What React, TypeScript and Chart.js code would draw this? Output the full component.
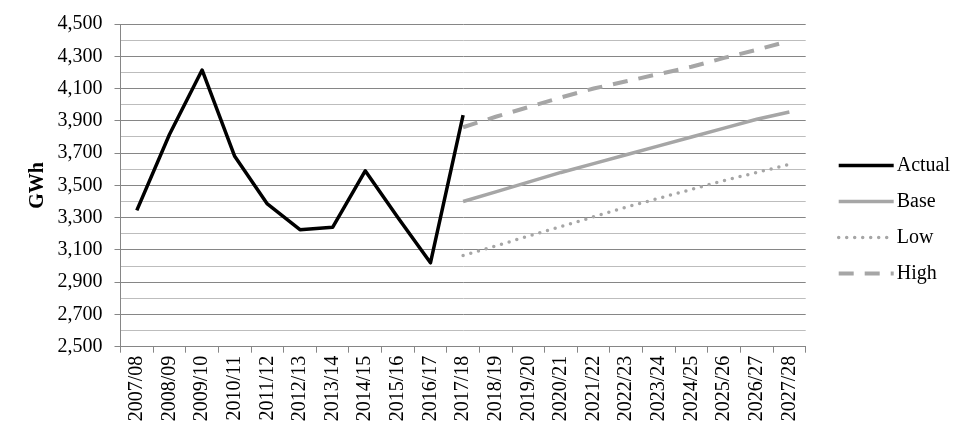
import { useEffect, useRef } from 'react';
import { Chart, registerables } from 'chart.js';

Chart.register(...registerables);

const categories = [
  '2007/08', '2008/09', '2009/10', '2010/11', '2011/12', '2012/13', '2013/14',
  '2014/15', '2015/16', '2016/17', '2017/18', '2018/19', '2019/20', '2020/21',
  '2021/22', '2022/23', '2023/24', '2024/25', '2025/26', '2026/27', '2027/28',
];

const actual = [3345, 3815, 4215, 3680, 3385, 3225, 3240, 3590, 3300, 3020, 3935,
  null, null, null, null, null, null, null, null, null, null];
const base = [null, null, null, null, null, null, null, null, null, null,
  3400, 3460, 3520, 3580, 3635, 3690, 3745, 3800, 3855, 3910, 3955];
const low = [null, null, null, null, null, null, null, null, null, null,
  3065, 3125, 3185, 3245, 3305, 3365, 3420, 3475, 3530, 3580, 3630];
const high = [null, null, null, null, null, null, null, null, null, null,
  3860, 3925, 3985, 4045, 4100, 4145, 4190, 4235, 4290, 4340, 4395];

const yMin = 2500;
const yMax = 4500;
const yStep = 100;
const yLabelStep = 200;
const yTitle = 'GWh';

const FONT = '"Liberation Serif", "Times New Roman", serif';
const MAJOR = '#868686';
const MINOR = '#bdbdbd';
const GRAY = '#a6a6a6';

const isMajor = (v: number) => Math.abs(((v - yMin) % yLabelStep)) < 1e-6;

const sideLegend = {
  id: 'sideLegend',
  afterDraw(chart: any) {
    const ctx = chart.ctx;
    const x0 = chart.chartArea.right + 33;
    const top = 165.5;
    const gap = 36;
    chart.data.datasets.forEach((ds: any, i: number) => {
      const y = top + i * gap;
      ctx.save();
      ctx.strokeStyle = ds.borderColor;
      ctx.lineWidth = ds.borderWidth;
      ctx.setLineDash(ds.borderDash || []);
      ctx.lineCap = ds.borderCapStyle || 'butt';
      ctx.beginPath();
      ctx.moveTo(x0, y);
      ctx.lineTo(x0 + 55, y);
      ctx.stroke();
      ctx.setLineDash([]);
      ctx.fillStyle = '#000';
      ctx.font = `20px ${FONT}`;
      ctx.textBaseline = 'middle';
      ctx.textAlign = 'left';
      ctx.fillText(ds.label, x0 + 58, y);
      ctx.restore();
    });
  },
};

export default function App() {
  const ref = useRef<HTMLCanvasElement | null>(null);

  useEffect(() => {
    if (!ref.current) return;
    Chart.defaults.color = '#000';
    const chart = new Chart(ref.current, {
      type: 'line',
      data: {
        labels: categories,
        datasets: [
          {
            label: 'Actual', data: actual, borderColor: '#000', backgroundColor: '#000',
            borderWidth: 3.5, pointRadius: 0, borderJoinStyle: 'round', order: 0,
          },
          {
            label: 'Base', data: base, borderColor: GRAY, backgroundColor: GRAY,
            borderWidth: 3.5, pointRadius: 0, order: 1,
          },
          {
            label: 'Low', data: low, borderColor: GRAY, backgroundColor: GRAY,
            borderWidth: 3.5, pointRadius: 0, borderDash: [0, 8], borderCapStyle: 'round', order: 2,
          },
          {
            label: 'High', data: high, borderColor: GRAY, backgroundColor: GRAY,
            borderWidth: 4, pointRadius: 0, borderDash: [15, 11], order: 3,
          },
        ] as any,
      },
      options: {
        animation: false,
        responsive: false,
        devicePixelRatio: 1,
        layout: { padding: { left: 22, right: 169.3, top: 22.3, bottom: 0 } },
        plugins: {
          legend: { display: false },
          tooltip: { enabled: false },
        },
        scales: {
          x: {
            type: 'category',
            offset: true,
            afterFit: (s: any) => { s.height = 94.3; },
            border: { color: MAJOR, width: 1 },
            grid: { offset: true, drawOnChartArea: false, drawTicks: true, tickLength: 6, color: MAJOR },
            ticks: {
              minRotation: 90, maxRotation: 90, autoSkip: false, padding: 3,
              font: { family: FONT, size: 20 }, color: '#000',
            },
          },
          y: {
            min: yMin,
            max: yMax,
            afterFit: (s: any) => { s.width = 98.5; },
            border: { color: MAJOR, width: 1 },
            grid: {
              color: (c: any) => (c.tick && isMajor(c.tick.value) ? MAJOR : MINOR),
              tickColor: (c: any) => (c.tick && isMajor(c.tick.value) ? MAJOR : 'rgba(0,0,0,0)'),
              tickLength: 6,
              lineWidth: 1,
            },
            ticks: {
              stepSize: yStep,
              autoSkip: false,
              padding: 12,
              font: { family: FONT, size: 20 },
              color: '#000',
              callback: (v: any) => (isMajor(Number(v)) ? Number(v).toLocaleString('en-US') : ''),
            },
            title: {
              display: true,
              text: yTitle,
              font: { family: FONT, size: 20, weight: 'bold' },
              color: '#000',
              padding: { top: 4, bottom: 4 },
            },
          },
        },
      } as any,
      plugins: [sideLegend],
    });
    return () => chart.destroy();
  }, []);

  return (
    <div style={{ position: 'absolute', left: 0, top: 0, width: 975, height: 441, background: '#fff' }}>
      <canvas ref={ref} width={975} height={441} style={{ display: 'block' }} />
    </div>
  );
}
